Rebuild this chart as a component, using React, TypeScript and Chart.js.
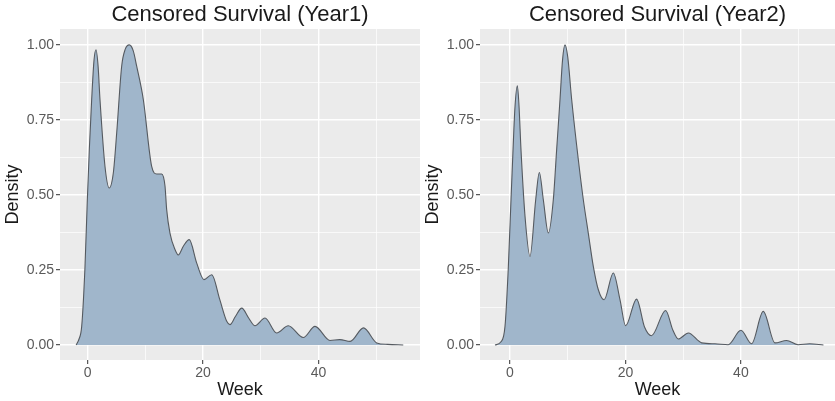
import React, { useEffect, useRef } from "react";
import { Chart, registerables } from "chart.js";

Chart.register(...registerables);

// ---------- data ----------
const titles = ["Censored Survival (Year1)", "Censored Survival (Year2)"];
const xAxisTitle = "Week";
const yAxisTitle = "Density";

const xTickValues = [0, 10, 20, 30, 40, 50];
const xTickLabels = ["0", "", "20", "", "40", ""];
const yTickValues = [0, 0.125, 0.25, 0.375, 0.5, 0.625, 0.75, 0.875, 1];
const yTickLabels = ["0.00", "", "0.25", "", "0.50", "", "0.75", "", "1.00"];

const year1Weeks = [
  -2.0, -1.5, -1.04, -0.47, -0.07, 0.3, 0.69, 1.1, 1.44, 1.8, 2.13, 3.0, 3.74, 4.44, 5.03,
  5.89, 6.5, 7.21, 7.9, 8.49, 9.64, 11.09, 11.96, 12.82, 13.4, 13.69, 14.26, 15.13, 15.7,
  16.6, 17.6, 18.9, 20.16, 21.5, 22.9, 24.1, 24.66, 25.6, 26.7, 27.9, 29.0, 30.73, 32.75,
  34.77, 37.37, 39.4, 42.0, 43.7, 45.5, 47.8, 50.1, 52.0, 54.7,
];
const year1Density = [
  0, 0.02, 0.062, 0.26, 0.48, 0.66, 0.818, 0.95, 0.984, 0.93, 0.818, 0.595, 0.523, 0.573,
  0.707, 0.929, 0.985, 1.0, 0.98, 0.929, 0.818, 0.595, 0.57, 0.57, 0.53, 0.451, 0.373,
  0.318, 0.3, 0.33, 0.351, 0.273, 0.218, 0.234, 0.151, 0.079, 0.068, 0.095, 0.123, 0.09,
  0.064, 0.09, 0.04, 0.064, 0.025, 0.062, 0.015, 0.018, 0.012, 0.057, 0.007, 0.002, 0,
];

const year2Weeks = [
  -2.6, -1.6, -0.87, -0.29, 0.17, 0.5, 0.85, 1.27, 1.55, 1.9, 2.6, 3.46, 4.45, 5.08, 5.77,
  6.64, 7.5, 8.08, 8.66, 9.1, 9.52, 10.0, 10.68, 11.83, 12.7, 13.56, 14.43, 15.3, 16.3,
  17.9, 19.05, 20.03, 21.93, 23.3, 24.5, 26.96, 28.2, 29.15, 30.9, 33.2, 35.5, 37.8, 40.0,
  41.85, 43.87, 45.9, 47.9, 49.9, 51.9, 54.3,
];
const year2Density = [
  0, 0.01, 0.062, 0.26, 0.484, 0.64, 0.79, 0.864, 0.8, 0.651, 0.429, 0.295, 0.484, 0.575,
  0.484, 0.373, 0.484, 0.651, 0.818, 0.95, 1.0, 0.96, 0.818, 0.618, 0.484, 0.373, 0.262,
  0.184, 0.151, 0.24, 0.151, 0.064, 0.153, 0.06, 0.031, 0.115, 0.05, 0.02, 0.04, 0.007,
  0.004, 0.001, 0.049, 0.004, 0.112, 0.007, 0.015, 0.001, 0.004, 0,
];

// ---------- styles ----------
const FONT = "'Liberation Sans', Arial, sans-serif";
const PANEL_BG = "#EBEBEB";
const FILL = "#A0B6CB";
const LINE = "#555a60";
const TICK_TEXT = "#5a5a5a";
const TITLE_TEXT = "#1a1a1a";

const panelBg = {
  id: "panelBg",
  beforeDraw(chart: any) {
    const { ctx, chartArea: a } = chart;
    ctx.save();
    ctx.fillStyle = PANEL_BG;
    ctx.fillRect(a.left, a.top, a.right - a.left, a.bottom - a.top);
    ctx.restore();
  },
};

function isMajorX(v: number) {
  return Math.abs(v % 20) < 1e-6;
}
function isMajorY(v: number) {
  return Math.abs(v * 4 - Math.round(v * 4)) < 1e-6;
}

function Panel(props: {
  left: number;
  width: number;
  title: string;
  xs: number[];
  ys: number[];
  xMin: number;
  xMax: number;
}) {
  const ref = useRef<HTMLCanvasElement | null>(null);
  useEffect(() => {
    if (!ref.current) return;
    const points = props.xs.map((x, i) => ({ x, y: props.ys[i] }));
    const chart = new Chart(ref.current, {
      type: "line",
      data: {
        datasets: [
          {
            data: points,
            fill: "origin",
            backgroundColor: FILL,
            borderColor: LINE,
            borderWidth: 1.1,
            pointRadius: 0,
            cubicInterpolationMode: "monotone",
          },
        ],
      },
      options: {
        animation: false,
        responsive: false,
        devicePixelRatio: 1,
        layout: { padding: 0 },
        plugins: {
          legend: { display: false },
          tooltip: { enabled: false },
          title: {
            display: true,
            text: props.title,
            fullSize: false,
            color: TITLE_TEXT,
            font: { family: FONT, size: 22, weight: "normal" },
            padding: { top: 1.5, bottom: 1.1 },
          },
        },
        scales: {
          x: {
            type: "linear",
            min: props.xMin,
            max: props.xMax,
            afterBuildTicks: (scale: any) => {
              scale.ticks = xTickValues.map((v) => ({ value: v }));
            },
            afterFit: (scale: any) => {
              scale.height = 41;
            },
            border: { display: false },
            grid: {
              color: "#FFFFFF",
              lineWidth: (c: any) => (isMajorX(c.tick.value) ? 1.4 : 0.7),
              tickColor: (c: any) => (isMajorX(c.tick.value) ? "#333333" : "rgba(0,0,0,0)"),
              tickLength: 4,
              tickWidth: 1,
            },
            ticks: {
              autoSkip: false,
              maxRotation: 0,
              padding: 1,
              color: TICK_TEXT,
              font: { family: FONT, size: 14 },
              callback: (v: any) => {
                const i = xTickValues.indexOf(Number(v));
                return i >= 0 ? xTickLabels[i] : "";
              },
            },
            title: {
              display: true,
              text: xAxisTitle,
              color: TITLE_TEXT,
              font: { family: FONT, size: 18 },
              padding: { top: 2.2, bottom: 0 },
            },
          },
          y: {
            type: "linear",
            min: -0.05,
            max: 1.053,
            afterBuildTicks: (scale: any) => {
              scale.ticks = yTickValues.map((v) => ({ value: v }));
            },
            afterFit: (scale: any) => {
              scale.width = 60;
            },
            border: { display: false },
            grid: {
              color: "#FFFFFF",
              lineWidth: (c: any) => (isMajorY(c.tick.value) ? 1.4 : 0.7),
              tickColor: (c: any) => (isMajorY(c.tick.value) ? "#333333" : "rgba(0,0,0,0)"),
              tickLength: 4,
              tickWidth: 1,
            },
            ticks: {
              autoSkip: false,
              padding: 2,
              color: TICK_TEXT,
              font: { family: FONT, size: 14 },
              callback: (v: any) => {
                const i = yTickValues.findIndex((t) => Math.abs(t - Number(v)) < 1e-6);
                return i >= 0 ? yTickLabels[i] : "";
              },
            },
            title: {
              display: true,
              text: yAxisTitle,
              color: TITLE_TEXT,
              font: { family: FONT, size: 18 },
              padding: { top: 2.2, bottom: 0 },
            },
          },
        },
      } as any,
      plugins: [panelBg],
    });
    return () => chart.destroy();
  }, []);
  return (
    <canvas
      ref={ref}
      width={props.width}
      height={401}
      style={{
        position: "absolute",
        left: props.left,
        top: 0,
        width: props.width,
        height: 401,
      }}
    />
  );
}

export default function App() {
  useEffect(() => {
    document.body.style.margin = "0";
    document.body.style.background = "#FFFFFF";
  }, []);
  return (
    <div style={{ position: "relative", width: 835, height: 401, background: "#FFFFFF" }}>
      <Panel left={0} width={420} title={titles[0]} xs={year1Weeks} ys={year1Density} xMin={-4.8} xMax={57.6} />
      <Panel left={420} width={415} title={titles[1]} xs={year2Weeks} ys={year2Density} xMin={-5.2} xMax={56.3} />
    </div>
  );
}
